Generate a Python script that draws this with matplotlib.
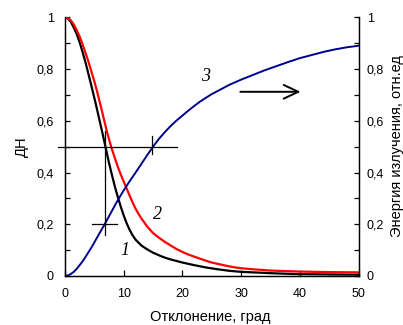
import numpy as np
import matplotlib
matplotlib.use('Agg')
import matplotlib.pyplot as plt
import matplotlib.ticker as ticker

plt.rcParams['font.family'] = ['Liberation Sans', 'DejaVu Sans']

# curve 1 (black) - ДН
x1 = [0, 0.5, 1, 1.5, 2, 2.5, 3, 3.5, 4, 4.5, 5, 5.5, 6, 6.5, 7, 7.5, 8, 8.5, 9, 9.5,
      10, 10.5, 11, 11.5, 12, 13, 14, 15, 16, 17, 18, 19, 20, 22, 24, 26, 28, 30, 33,
      36, 40, 45, 50]
y1 = [1.0, 0.995, 0.982, 0.96, 0.935, 0.903, 0.865, 0.825, 0.78, 0.735, 0.688, 0.64,
      0.59, 0.54, 0.488, 0.437, 0.39, 0.345, 0.305, 0.268, 0.234, 0.204, 0.179, 0.158,
      0.141, 0.118, 0.103, 0.09, 0.08, 0.071, 0.064, 0.058, 0.052, 0.042, 0.033, 0.026,
      0.02, 0.016, 0.013, 0.01, 0.007, 0.006, 0.005]

# curve 2 (red) - ДН
x2 = [0, 0.5, 1, 1.5, 2, 2.5, 3, 3.5, 4, 4.5, 5, 5.5, 6, 6.5, 7, 7.5, 8, 8.5, 9, 9.5,
      10, 10.5, 11, 11.5, 12, 12.5, 13, 14, 15, 16, 17, 18, 19, 20, 21, 22, 23, 24, 25,
      26, 27, 28, 29, 30, 32, 35, 40, 45, 50]
y2 = [1.0, 0.997, 0.988, 0.972, 0.95, 0.925, 0.895, 0.862, 0.828, 0.79, 0.752, 0.71,
      0.665, 0.618, 0.571, 0.528, 0.49, 0.455, 0.422, 0.392, 0.365, 0.338, 0.311, 0.285,
      0.261, 0.241, 0.223, 0.191, 0.166, 0.148, 0.132, 0.118, 0.104, 0.093, 0.083, 0.075,
      0.067, 0.059, 0.052, 0.047, 0.042, 0.037, 0.033, 0.03, 0.026, 0.021, 0.017, 0.015,
      0.014]

# curve 3 (blue) - энергия
x3 = [0, 0.5, 1, 1.5, 2, 2.5, 3, 3.5, 4, 4.5, 5, 5.5, 6, 6.5, 7, 7.5, 8, 8.5, 9, 9.5,
      10, 11, 12, 13, 14, 15, 16, 17, 18, 19, 20, 21, 22, 23, 24, 25, 26, 27, 28, 29, 30,
      32, 34, 36, 38, 40, 42, 44, 46, 48, 50]
y3 = [0.0, 0.002, 0.008, 0.016, 0.028, 0.042, 0.057, 0.074, 0.092, 0.11, 0.13, 0.15,
      0.17, 0.19, 0.21, 0.231, 0.252, 0.273, 0.293, 0.312, 0.331, 0.366, 0.399, 0.433,
      0.467, 0.5, 0.53, 0.556, 0.58, 0.601, 0.62, 0.639, 0.657, 0.674, 0.689, 0.703, 0.715,
      0.727, 0.739, 0.749, 0.759, 0.777, 0.795, 0.811, 0.827, 0.842, 0.854, 0.866, 0.876,
      0.884, 0.89]

# crosshair guides
half_level = 0.5
half_x = [-1.2, 19]
w1 = 6.8
w1_y = [0.16, 0.56]
e_level = 0.2
e_x = [4.66, 8.8]
w3 = 14.9
w3_y = [0.47, 0.54]

yticks = [0, 0.2, 0.4, 0.6, 0.8, 1]
xticks = [0, 10, 20, 30, 40, 50]


def comma(v, pos):
    return f"{v:g}".replace('.', ',')


fig = plt.figure(figsize=(4.03, 3.25), dpi=100)
ax = fig.add_axes([0.1613, 0.1508, 0.7283, 0.7960])
ax2 = ax.twinx()

ax.plot(x1, y1, color='k', lw=1.6)
ax.plot(x2, y2, color='#ff0000', lw=1.6)
ax.plot(x3, y3, color='#000090', lw=1.4)

ax.plot(half_x, [half_level] * 2, color='k', lw=0.9, clip_on=False)
ax.plot([w1] * 2, w1_y, color='k', lw=0.9)
ax.plot(e_x, [e_level] * 2, color='k', lw=0.9)
ax.plot([w3] * 2, w3_y, color='k', lw=0.9)

lab = dict(family=['Liberation Serif', 'DejaVu Serif'], style='italic', fontsize=13)
ax.text(10.2, 0.10, '1', ha='center', va='center', **lab)
ax.text(15.8, 0.236, '2', ha='center', va='center', **lab)
ax.text(24.0, 0.77, '3', ha='center', va='center', **lab)

ax.annotate('', xy=(40.6, 0.712), xytext=(29.4, 0.712),
            arrowprops=dict(arrowstyle='->,head_length=0.7,head_width=0.33',
                            mutation_scale=15, color='k', lw=1.4))

for a in (ax, ax2):
    a.set_xlim(0, 50)
    a.set_ylim(0, 1)
    a.spines['top'].set_visible(False)
    for s in ('left', 'right', 'bottom'):
        a.spines[s].set_linewidth(0.9)
    a.set_yticks(yticks)
    a.yaxis.set_minor_locator(ticker.MultipleLocator(0.1))
    a.yaxis.set_major_formatter(ticker.FuncFormatter(comma))

ax.set_xticks(xticks)
ax.tick_params(axis='x', direction='in', length=4, width=0.9, labelsize=9, pad=9)
ax.tick_params(axis='y', which='both', direction='in', length=3.5, width=0.9, labelsize=9, pad=8)
ax2.tick_params(axis='y', which='both', direction='in', length=3.5, width=0.9, labelsize=9, pad=6)

fig.text(22 / 403, 1 - 147 / 325, 'ДН', rotation=90, ha='center', va='center', fontsize=10.5)
fig.text(397 / 403, 1 - 146 / 325, 'Энергия излучения, отн.ед', rotation=90,
         ha='center', va='center', fontsize=10.5)
fig.text(210 / 403, 1 - 317 / 325, 'Отклонение, град', ha='center', va='center', fontsize=10.5)

fig.savefig('out.png', dpi=100)
